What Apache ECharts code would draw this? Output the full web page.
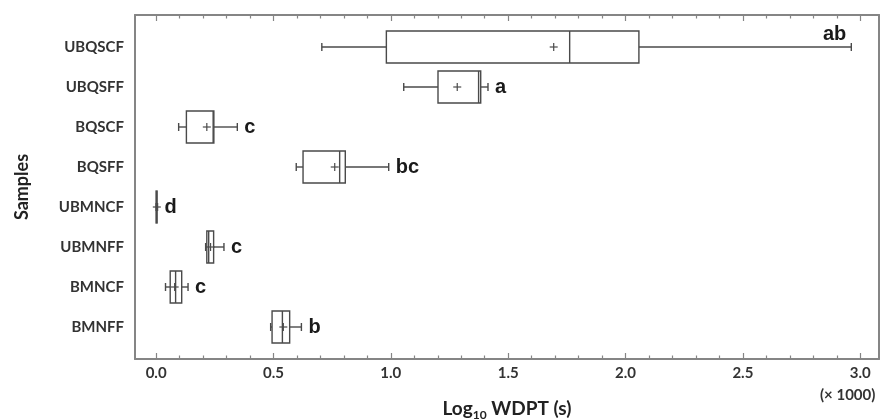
<!DOCTYPE html>
<html lang="en">
<head>
    <meta charset="utf-8">
    <title>WDPT boxplot</title>
    <script src="https://cdn.jsdelivr.net/npm/echarts@6/dist/echarts.min.js"></script>
    <style>
        html, body { margin: 0; padding: 0; background: #fff; }
    </style>
</head>
<body>
    <div id="main" style="width:882px;height:419px;"></div>

    <script type="text/javascript">
    // samples, top to bottom
    var samples = ['UBQSCF', 'UBQSFF', 'BQSCF', 'BQSFF', 'UBMNCF', 'UBMNFF', 'BMNCF', 'BMNFF'];
    // box statistics (x 1000 s)
    var whiskerLow  = [0.706, 1.055, 0.096, 0.597, 0.000, 0.211, 0.040, 0.488];
    var quart1      = [0.981, 1.201, 0.129, 0.626, 0.000, 0.216, 0.060, 0.494];
    var medians     = [1.762, 1.374, 0.243, 0.782, 0.002, 0.224, 0.083, 0.538];
    var quart3      = [2.057, 1.383, 0.246, 0.806, 0.004, 0.245, 0.109, 0.569];
    var whiskerHigh = [2.962, 1.414, 0.346, 0.991, 0.006, 0.289, 0.136, 0.619];
    var means       = [1.694, 1.283, 0.216, 0.761, 0.003, 0.232, 0.079, 0.542];
    var letters     = ['ab', 'a', 'c', 'bc', 'd', 'c', 'c', 'b'];
    // tick labels
    var majorTicks = [0.0, 0.5, 1.0, 1.5, 2.0, 2.5, 3.0];
    var minorTicks = [0.1, 0.2, 0.3, 0.4, 0.6, 0.7, 0.8, 0.9, 1.1, 1.2, 1.3, 1.4,
                      1.6, 1.7, 1.8, 1.9, 2.1, 2.2, 2.3, 2.4, 2.6, 2.7, 2.8, 2.9];

    var boxData = samples.map(function (s, i) {
        return [i, whiskerLow[i], quart1[i], medians[i], quart3[i], whiskerHigh[i], means[i]];
    });

    var ink = '#4a4a4a';
    var frame = '#858585';
    var xMin = -0.09, xMax = 3.08;

    function renderBox(params, api) {
        var i = api.value(0);
        var lo = api.coord([api.value(1), i]);
        var b1 = api.coord([api.value(2), i]);
        var md = api.coord([api.value(3), i]);
        var b3 = api.coord([api.value(4), i]);
        var hi = api.coord([api.value(5), i]);
        var mn = api.coord([api.value(6), i]);
        var h = api.size([0, 0.8])[1];
        var y = lo[1];
        var cap = 4, pl = 4;
        var ls = { stroke: ink, lineWidth: 1.4, fill: null };
        var kids = [
            { type: 'line', shape: { x1: lo[0], y1: y, x2: b1[0], y2: y }, style: ls },
            { type: 'line', shape: { x1: b3[0], y1: y, x2: hi[0], y2: y }, style: ls },
            { type: 'line', shape: { x1: lo[0], y1: y - cap, x2: lo[0], y2: y + cap }, style: ls },
            { type: 'line', shape: { x1: hi[0], y1: y - cap, x2: hi[0], y2: y + cap }, style: ls },
            { type: 'rect', shape: { x: b1[0], y: y - h / 2, width: Math.max(b3[0] - b1[0], 0.5), height: h },
              style: { stroke: ink, lineWidth: 1.4, fill: '#fff' } },
            { type: 'line', shape: { x1: md[0], y1: y - h / 2, x2: md[0], y2: y + h / 2 }, style: ls },
            { type: 'line', shape: { x1: mn[0] - pl, y1: y, x2: mn[0] + pl, y2: y }, style: { stroke: ink, lineWidth: 1.2 } },
            { type: 'line', shape: { x1: mn[0], y1: y - pl, x2: mn[0], y2: y + pl }, style: { stroke: ink, lineWidth: 1.2 } }
        ];
        var above = hi[0] > 780;
        kids.push({
            type: 'text',
            style: {
                text: letters[params.dataIndex],
                x: above ? hi[0] - 5 : hi[0] + 7,
                y: above ? y - 13 : y,
                align: above ? 'right' : 'left',
                verticalAlign: 'middle',
                font: 'bold 20px "Liberation Sans", Arial, sans-serif',
                fill: '#1a1a1a'
            }
        });
        return { type: 'group', children: kids };
    }

    var myChart = echarts.init(document.getElementById('main'));

    function xAx(pos, ticks, len, extra) {
        var a = {
            type: 'value', position: pos, min: xMin, max: xMax,
            axisLine: { show: false, onZero: false },
            axisTick: { show: true, inside: true, length: len, customValues: ticks, lineStyle: { color: frame, width: 1.2 } },
            axisLabel: { show: false },
            splitLine: { show: false }
        };
        return Object.assign(a, extra || {});
    }

    myChart.setOption({
        animation: false,
        grid: { left: 135, right: 3, top: 15, bottom: 60, outerBoundsMode: 'none' },
        xAxis: [
            xAx('bottom', majorTicks, 6, {
                axisLine: { show: true, onZero: false, lineStyle: { color: frame, width: 2 } },
                axisLabel: {
                    show: true, customValues: majorTicks, margin: 7,
                    formatter: function (v) { return v.toFixed(1); },
                    fontFamily: 'Lato', fontWeight: 'bold', fontSize: 15, color: '#333'
                },
                name: '{a|Log}{s|10}{a| WDPT (s)}',
                nameLocation: 'middle', nameGap: 38,
                nameTextStyle: {
                    rich: {
                        a: { fontFamily: 'Lato', fontWeight: 'bold', fontSize: 19, color: '#222', lineHeight: 24 },
                        s: { fontFamily: 'Lato', fontWeight: 'bold', fontSize: 12, color: '#222', lineHeight: 24, verticalAlign: 'bottom', padding: [9, 0, 0, 0] }
                    }
                }
            }),
            xAx('bottom', minorTicks, 3.5),
            xAx('top', majorTicks, 6, {
                axisLine: { show: true, onZero: false, lineStyle: { color: frame, width: 2 } }
            }),
            xAx('top', minorTicks, 3.5)
        ],
        yAxis: [{
            type: 'value', min: -0.8, max: 7.8, inverse: true, position: 'left',
            axisLine: { show: true, onZero: false, lineStyle: { color: frame, width: 2 } },
            axisTick: { show: false },
            splitLine: { show: false },
            axisLabel: {
                customValues: samples.map(function (s, i) { return i; }),
                formatter: function (v) { return samples[Math.round(v)]; },
                margin: 11, fontFamily: 'Lato', fontWeight: 'bold', fontSize: 15, color: '#333'
            },
            name: 'Samples', nameLocation: 'middle', nameGap: 104,
            nameTextStyle: { fontFamily: 'Lato', fontWeight: 'bold', fontSize: 18, color: '#222' }
        }, {
            type: 'value', min: -0.8, max: 7.8, inverse: true, position: 'right',
            axisLine: { show: true, onZero: false, lineStyle: { color: frame, width: 2 } },
            axisTick: { show: false }, axisLabel: { show: false }, splitLine: { show: false }
        }],
        graphic: [{
            type: 'text', left: 820, top: 388,
            style: { text: '(\u00d7 1000)', font: 'bold 15px Lato', fill: '#333' }
        }],
        series: [{
            type: 'custom',
            xAxisIndex: 0, yAxisIndex: 0,
            renderItem: renderBox,
            encode: { x: [1, 2, 3, 4, 5, 6], y: 0 },
            data: boxData,
            clip: false
        }]
    });
    </script>
</body>
</html>
